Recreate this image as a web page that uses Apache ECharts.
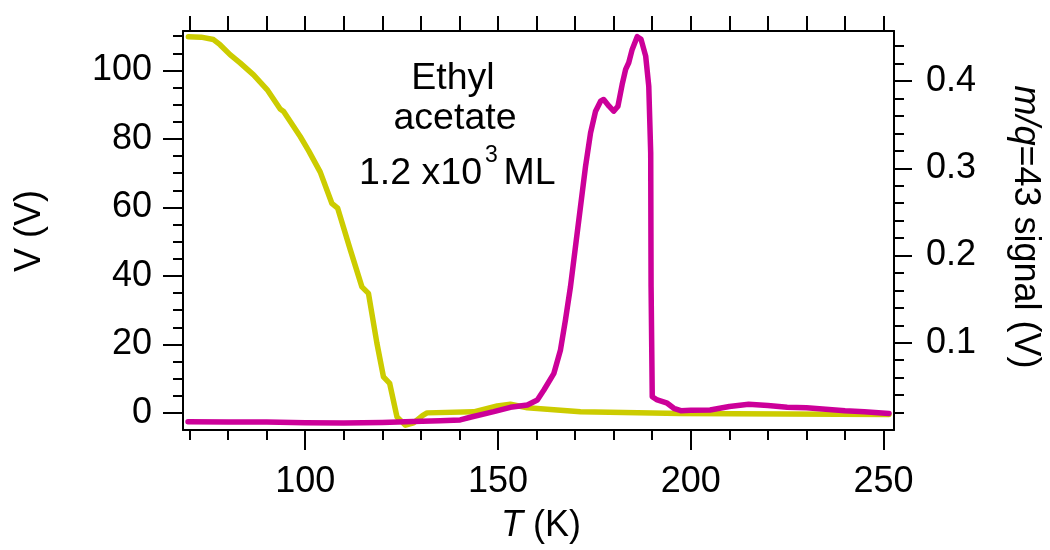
<!DOCTYPE html>
<html>
<head>
<meta charset="utf-8">
<script src="https://cdn.jsdelivr.net/npm/echarts@6/dist/echarts.min.js"></script>
<style>
  html, body { margin: 0; padding: 0; background: #fff; }
  #chart { width: 1050px; height: 550px; }
</style>
</head>
<body>
<div id="chart"></div>
<script>
// Potential (left axis) during the temperature ramp
const voltageT = [69.7, 73.0, 76.2, 77.9, 80.5, 83.1, 86.6, 90.1, 93.5, 94.4, 98.7, 100.9, 103.9, 106.9, 108.4, 111.7, 114.7, 116.4, 118.6, 120.3, 121.9, 123.8, 126.0, 128.1, 130.5, 131.6, 143.7, 149.8, 153.2, 157.6, 171.4, 197.4, 225.0, 251.4];
const voltageV = [109.8, 109.7, 109.0, 107.5, 104.6, 102.2, 98.7, 94.4, 88.7, 88.0, 80.7, 76.5, 70.3, 61.2, 59.8, 47.6, 36.8, 34.9, 20.3, 10.5, 8.6, -1.2, -3.6, -2.9, -0.7, 0.0, 0.3, 2.0, 2.5, 1.5, 0.3, -0.2, -0.3, -0.5];

// Mass spectrometer signal m/q = 43 (right axis)
const signalT = [69.6, 80, 90, 100, 110, 120, 128, 135, 140.2, 142.8, 148.9, 153.2, 157.6, 160.2, 161.9, 164.5, 166.2, 167.5, 168.8, 170.1, 171.4, 172.7, 174.0, 175.3, 176.6, 177.4, 178.8, 180.0, 181.1, 182.2, 183.1, 183.9, 184.8, 186.1, 187.1, 188.3, 189.1, 189.6, 189.7, 190.0, 191.3, 193.9, 195.6, 197.4, 200, 205, 210, 215, 220, 225, 230, 240, 245, 251.4];
const signalV = [0.0095, 0.0093, 0.0091, 0.0083, 0.0079, 0.0086, 0.0098, 0.0106, 0.0115, 0.0146, 0.021, 0.026, 0.0287, 0.0344, 0.0459, 0.065, 0.0918, 0.1263, 0.1645, 0.2105, 0.2564, 0.3023, 0.3406, 0.3655, 0.3769, 0.3789, 0.3712, 0.3655, 0.3712, 0.3961, 0.4133, 0.421, 0.4363, 0.4509, 0.4478, 0.4286, 0.3941, 0.3177, 0.1645, 0.0382, 0.0344, 0.0307, 0.0249, 0.0222, 0.0225, 0.023, 0.027, 0.0295, 0.028, 0.026, 0.0255, 0.022, 0.021, 0.019];

// Tick positions
const tempMajor = [100, 150, 200, 250];
const tempMinor = [70, 80, 90, 110, 120, 130, 140, 160, 170, 180, 190, 210, 220, 230, 240];
const tempTop = [70, 80, 90, 100, 110, 120, 130, 140, 150, 160, 170, 180, 190, 200, 210, 220, 230, 240, 250];
const voltMajor = [0, 20, 40, 60, 80, 100];
const voltMinor = [5, 10, 15, 25, 30, 35, 45, 50, 55, 65, 70, 75, 85, 90, 95, 105, 110];
const sigMajor = [0.1, 0.2, 0.3, 0.4];
const sigMinor = [0.02, 0.04, 0.06, 0.08, 0.12, 0.14, 0.16, 0.18, 0.22, 0.24, 0.26, 0.28, 0.32, 0.34, 0.36, 0.38, 0.42, 0.44];

const FONT = "'Liberation Sans', Arial, sans-serif";
const T_MIN = 68.3, T_MAX = 252.7;
const V_MIN = -5, V_MAX = 111.5;
const S_MIN = 0, S_MAX = 0.4574;

const line = { show: true, onZero: false, lineStyle: { color: '#000', width: 2 } };
const noLine = { show: false, onZero: false };
const noLabel = { show: false };
const tickStyle = { color: '#000', width: 2 };

function zip(xs, ys) { return xs.map((x, i) => [x, ys[i]]); }

const chart = echarts.init(document.getElementById('chart'), null, { renderer: 'canvas' });

chart.setOption({
  animation: false,
  backgroundColor: '#fff',
  grid: { left: 183, right: 156, top: 31, bottom: 120, containLabel: false },
  xAxis: [
    {
      type: 'value', position: 'bottom', min: T_MIN, max: T_MAX,
      axisLine: line, splitLine: { show: false },
      axisTick: { show: true, inside: false, length: 20, customValues: tempMajor, lineStyle: tickStyle },
      axisLabel: { show: true, customValues: tempMajor, fontSize: 36, fontFamily: FONT, color: '#000', margin: 34 }
    },
    {
      type: 'value', position: 'bottom', min: T_MIN, max: T_MAX,
      axisLine: noLine, splitLine: { show: false }, axisLabel: noLabel,
      axisTick: { show: true, inside: false, length: 10, customValues: tempMinor, lineStyle: tickStyle }
    },
    {
      type: 'value', position: 'top', min: T_MIN, max: T_MAX,
      axisLine: line, splitLine: { show: false }, axisLabel: noLabel,
      axisTick: { show: true, inside: false, length: 15, customValues: tempTop, lineStyle: tickStyle }
    }
  ],
  yAxis: [
    {
      type: 'value', position: 'left', min: V_MIN, max: V_MAX,
      axisLine: line, splitLine: { show: false },
      axisTick: { show: true, inside: false, length: 20, customValues: voltMajor, lineStyle: tickStyle },
      axisLabel: { show: true, customValues: voltMajor, fontSize: 36, fontFamily: FONT, color: '#000', margin: 31 }
    },
    {
      type: 'value', position: 'right', min: S_MIN, max: S_MAX,
      axisLine: line, splitLine: { show: false },
      axisTick: { show: true, inside: false, length: 18, customValues: sigMajor, lineStyle: tickStyle },
      axisLabel: { show: true, customValues: sigMajor, fontSize: 36, fontFamily: FONT, color: '#000', margin: 32,
        formatter: v => v.toFixed(1) }
    },
    {
      type: 'value', position: 'left', min: V_MIN, max: V_MAX,
      axisLine: noLine, splitLine: { show: false }, axisLabel: noLabel,
      axisTick: { show: true, inside: false, length: 10, customValues: voltMinor, lineStyle: tickStyle }
    },
    {
      type: 'value', position: 'right', min: S_MIN, max: S_MAX,
      axisLine: noLine, splitLine: { show: false }, axisLabel: noLabel,
      axisTick: { show: true, inside: false, length: 10, customValues: sigMinor, lineStyle: tickStyle }
    }
  ],
  series: [
    {
      name: 'V', type: 'line', xAxisIndex: 0, yAxisIndex: 0,
      data: zip(voltageT, voltageV), showSymbol: false, symbol: 'none',
      lineStyle: { color: '#CCCC00', width: 5.5, join: 'round', cap: 'round' }
    },
    {
      name: 'm/q=43', type: 'line', xAxisIndex: 0, yAxisIndex: 1,
      data: zip(signalT, signalV), showSymbol: false, symbol: 'none',
      lineStyle: { color: '#CC0099', width: 5.5, join: 'round', cap: 'round' }
    }
  ],
  graphic: [
    { type: 'text', x: 453, y: 79, style: { text: 'Ethyl', font: '37.5px ' + FONT, fill: '#000', align: 'center', verticalAlign: 'middle' } },
    { type: 'text', x: 455, y: 119, style: { text: 'acetate', font: '37.5px ' + FONT, fill: '#000', align: 'center', verticalAlign: 'middle' } },
    { type: 'text', x: 359, y: 173.5, style: { text: '1.2 x10', font: '37.5px ' + FONT, fill: '#000', align: 'left', verticalAlign: 'middle' } },
    { type: 'text', x: 485, y: 155.5, style: { text: '3', font: '23px ' + FONT, fill: '#000', align: 'left', verticalAlign: 'middle' } },
    { type: 'text', x: 493, y: 173.5, style: { text: ' ML', font: '37.5px ' + FONT, fill: '#000', align: 'left', verticalAlign: 'middle' } },
    {
      type: 'text', x: 541, y: 526,
      style: {
        text: '{i|T} (K)', font: '36px ' + FONT, fill: '#000', align: 'center', verticalAlign: 'middle',
        rich: { i: { fontStyle: 'italic', fontSize: 36, fontFamily: FONT } }
      }
    },
    {
      type: 'text', x: 30, y: 231, rotation: Math.PI / 2,
      style: { text: 'V (V)', font: '36px ' + FONT, fill: '#000', align: 'center', verticalAlign: 'middle' }
    },
    {
      type: 'text', x: 1025, y: 227, rotation: -Math.PI / 2,
      style: {
        text: '{i|m/q}=43 signal (V)', font: '36px ' + FONT, fill: '#000', align: 'center', verticalAlign: 'middle',
        rich: { i: { fontStyle: 'italic', fontSize: 36, fontFamily: FONT } }
      }
    }
  ]
});
</script>
</body>
</html>
